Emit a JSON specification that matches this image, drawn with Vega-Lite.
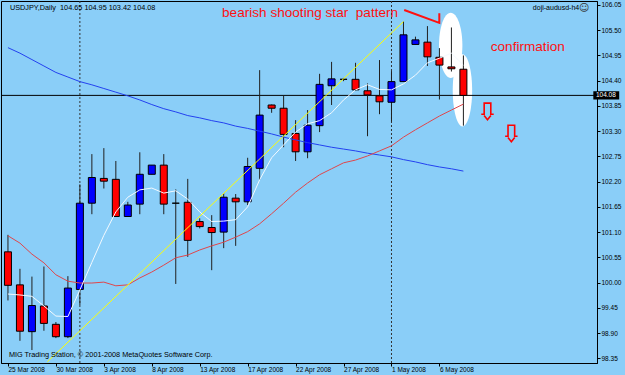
{
  "$schema": "https://vega.github.io/schema/vega-lite/v6.json",
  "width": 596,
  "height": 362,
  "autosize": {"type": "none"},
  "padding": {"left": 1, "top": 1, "right": 28, "bottom": 12},
  "background": "#8ACEF8",
  "config": {"view": {"stroke": "#000000", "strokeWidth": 1, "fill": "#8ACEF8"}, "font": "Liberation Sans"},
  "resolve": {"axis": {"x": "independent", "y": "independent"}},
  "datasets": {
    "candles": [
      {"i": 0, "date": "2008-03-25", "open": 100.67, "high": 101.04, "low": 99.61, "close": 99.94},
      {"i": 1, "date": "2008-03-26", "open": 99.95, "high": 100.30, "low": 98.73, "close": 98.94},
      {"i": 2, "date": "2008-03-27", "open": 98.93, "high": 100.13, "low": 98.53, "close": 99.50},
      {"i": 3, "date": "2008-03-28", "open": 99.49, "high": 100.35, "low": 98.95, "close": 99.11},
      {"i": 4, "date": "2008-03-30", "open": 99.09, "high": 99.14, "low": 98.79, "close": 98.82},
      {"i": 5, "date": "2008-03-31", "open": 98.82, "high": 100.14, "low": 98.79, "close": 99.88},
      {"i": 6, "date": "2008-04-01", "open": 99.85, "high": 102.14, "low": 99.51, "close": 101.73},
      {"i": 7, "date": "2008-04-02", "open": 101.73, "high": 102.80, "low": 101.49, "close": 102.29},
      {"i": 8, "date": "2008-04-03", "open": 102.27, "high": 102.93, "low": 102.05, "close": 102.21},
      {"i": 9, "date": "2008-04-04", "open": 102.25, "high": 102.65, "low": 101.43, "close": 101.44},
      {"i": 10, "date": "2008-04-06", "open": 101.44, "high": 101.76, "low": 101.43, "close": 101.69},
      {"i": 11, "date": "2008-04-07", "open": 101.71, "high": 102.84, "low": 101.49, "close": 102.36},
      {"i": 12, "date": "2008-04-08", "open": 102.36, "high": 102.56, "low": 102.36, "close": 102.56},
      {"i": 13, "date": "2008-04-09", "open": 102.56, "high": 102.80, "low": 101.49, "close": 101.71},
      {"i": 14, "date": "2008-04-10", "open": 101.73, "high": 102.03, "low": 99.97, "close": 101.73},
      {"i": 15, "date": "2008-04-11", "open": 101.75, "high": 102.26, "low": 100.56, "close": 100.92},
      {"i": 16, "date": "2008-04-13", "open": 101.33, "high": 101.40, "low": 101.18, "close": 101.22},
      {"i": 17, "date": "2008-04-14", "open": 101.20, "high": 101.47, "low": 100.27, "close": 101.09},
      {"i": 18, "date": "2008-04-15", "open": 101.10, "high": 101.95, "low": 100.75, "close": 101.86},
      {"i": 19, "date": "2008-04-16", "open": 101.84, "high": 101.93, "low": 100.80, "close": 101.76},
      {"i": 20, "date": "2008-04-17", "open": 101.76, "high": 102.72, "low": 101.69, "close": 102.53},
      {"i": 21, "date": "2008-04-18", "open": 102.49, "high": 104.63, "low": 102.24, "close": 103.65},
      {"i": 22, "date": "2008-04-20", "open": 103.87, "high": 103.88, "low": 103.70, "close": 103.80},
      {"i": 23, "date": "2008-04-21", "open": 103.80, "high": 104.07, "low": 102.95, "close": 103.23},
      {"i": 24, "date": "2008-04-22", "open": 103.25, "high": 103.54, "low": 102.65, "close": 102.85},
      {"i": 25, "date": "2008-04-23", "open": 102.85, "high": 103.76, "low": 102.71, "close": 103.43},
      {"i": 26, "date": "2008-04-24", "open": 103.42, "high": 104.55, "low": 103.28, "close": 104.32},
      {"i": 27, "date": "2008-04-25", "open": 104.29, "high": 104.81, "low": 103.87, "close": 104.44},
      {"i": 28, "date": "2008-04-27", "open": 104.43, "high": 104.46, "low": 104.39, "close": 104.43},
      {"i": 29, "date": "2008-04-28", "open": 104.43, "high": 104.79, "low": 104.18, "close": 104.20},
      {"i": 30, "date": "2008-04-29", "open": 104.18, "high": 104.34, "low": 103.19, "close": 104.09},
      {"i": 31, "date": "2008-04-30", "open": 104.07, "high": 104.85, "low": 103.67, "close": 103.94},
      {"i": 32, "date": "2008-05-01", "open": 103.93, "high": 104.61, "low": 103.51, "close": 104.38},
      {"i": 33, "date": "2008-05-02", "open": 104.38, "high": 105.69, "low": 104.38, "close": 105.40},
      {"i": 34, "date": "2008-05-04", "open": 105.19, "high": 105.36, "low": 105.19, "close": 105.29},
      {"i": 35, "date": "2008-05-05", "open": 105.24, "high": 105.59, "low": 104.72, "close": 104.92},
      {"i": 36, "date": "2008-05-06", "open": 104.91, "high": 105.11, "low": 103.99, "close": 104.74},
      {"i": 37, "date": "2008-05-07", "open": 104.70, "high": 105.56, "low": 104.60, "close": 104.66},
      {"i": 38, "date": "2008-05-08", "open": 104.65, "high": 104.95, "low": 103.42, "close": 104.08}
    ],
    "ma": [
      {"i": 0, "white": 99.75, "red": 101.02, "blue": 105.12},
      {"i": 1, "white": 99.73, "red": 100.86, "blue": 105.00},
      {"i": 2, "white": 99.70, "red": 100.62, "blue": 104.86},
      {"i": 3, "white": 99.49, "red": 100.43, "blue": 104.72},
      {"i": 4, "white": 99.27, "red": 100.17, "blue": 104.58},
      {"i": 5, "white": 99.26, "red": 100.03, "blue": 104.48},
      {"i": 6, "white": 99.84, "red": 99.99, "blue": 104.38},
      {"i": 7, "white": 100.44, "red": 99.99, "blue": 104.31},
      {"i": 8, "white": 101.03, "red": 100.01, "blue": 104.23},
      {"i": 9, "white": 101.54, "red": 99.93, "blue": 104.15},
      {"i": 10, "white": 101.86, "red": 99.95, "blue": 104.07},
      {"i": 11, "white": 102.02, "red": 100.10, "blue": 103.98},
      {"i": 12, "white": 102.06, "red": 100.23, "blue": 103.88},
      {"i": 13, "white": 101.95, "red": 100.38, "blue": 103.79},
      {"i": 14, "white": 102.00, "red": 100.54, "blue": 103.72},
      {"i": 15, "white": 101.82, "red": 100.60, "blue": 103.64},
      {"i": 16, "white": 101.54, "red": 100.71, "blue": 103.59},
      {"i": 17, "white": 101.33, "red": 100.80, "blue": 103.53},
      {"i": 18, "white": 101.34, "red": 100.88, "blue": 103.48},
      {"i": 19, "white": 101.37, "red": 100.99, "blue": 103.41},
      {"i": 20, "white": 101.65, "red": 101.11, "blue": 103.36},
      {"i": 21, "white": 102.24, "red": 101.28, "blue": 103.30},
      {"i": 22, "white": 102.72, "red": 101.50, "blue": 103.24},
      {"i": 23, "white": 103.00, "red": 101.73, "blue": 103.17},
      {"i": 24, "white": 103.28, "red": 101.97, "blue": 103.11},
      {"i": 25, "white": 103.46, "red": 102.17, "blue": 103.05},
      {"i": 26, "white": 103.53, "red": 102.35, "blue": 103.00},
      {"i": 27, "white": 103.70, "red": 102.48, "blue": 102.95},
      {"i": 28, "white": 103.98, "red": 102.61, "blue": 102.91},
      {"i": 29, "white": 104.20, "red": 102.67, "blue": 102.87},
      {"i": 30, "white": 104.31, "red": 102.76, "blue": 102.82},
      {"i": 31, "white": 104.21, "red": 102.87, "blue": 102.78},
      {"i": 32, "white": 104.20, "red": 102.98, "blue": 102.74},
      {"i": 33, "white": 104.33, "red": 103.17, "blue": 102.68},
      {"i": 34, "white": 104.52, "red": 103.33, "blue": 102.63},
      {"i": 35, "white": 104.79, "red": 103.48, "blue": 102.57},
      {"i": 36, "white": 104.89, "red": 103.63, "blue": 102.52},
      {"i": 37, "white": 105.00, "red": 103.76, "blue": 102.48},
      {"i": 38, "white": 104.74, "red": 103.89, "blue": 102.43}
    ]
  },
  "layer": [
    {
      "data": {"name": "candles"},
      "mark": {"type": "point", "opacity": 0, "size": 1},
      "encoding": {
        "x": {"field": "i", "type": "quantitative", "scale": {"domain": [-0.164, 48.73], "nice": false, "zero": false},
          "axis": {"values": [0, 4, 8, 12, 16, 20, 24, 28, 32, 36], "labelExpr": "['25 Mar 2008','30 Mar 2008','3 Apr 2008','8 Apr 2008','13 Apr 2008','17 Apr 2008','22 Apr 2008','27 Apr 2008','1 May 2008','6 May 2008'][round(datum.value/4)]", "labelAlign": "left", "labelBaseline": "top", "labelFont": "Liberation Sans", "labelFontSize": 6.5, "labelColor": "#000000", "labelPadding": 0, "tickSize": 3, "tickColor": "#000000", "domainColor": "#000000", "grid": false, "title": null, "labelFlush": false, "labelOverlap": false, "labelBound": false}},
        "y": {"field": "low", "type": "quantitative", "scale": {"domain": [98.247, 106.137], "nice": false, "zero": false},
          "axis": {"orient": "right", "values": [98.35, 98.9, 99.45, 100, 100.55, 101.1, 101.65, 102.2, 102.75, 103.3, 103.85, 104.4, 104.95, 105.5, 106.05], "format": ".2f", "labelAlign": "left", "labelBaseline": "middle", "labelFont": "Liberation Sans", "labelFontSize": 6.5, "labelColor": "#000000", "labelPadding": 1, "tickSize": 3, "tickColor": "#000000", "domainColor": "#000000", "grid": false, "title": null, "labelFlush": false, "labelOverlap": false}}
      }
    },
    {
      "data": {"values": [{"i": 36.94, "p": 105.17}]},
      "mark": {"type": "point", "shape": "M0,-1 C0.198,-1 0.358,-0.552 0.358,0 C0.358,0.552 0.198,1 0,1 C-0.198,1 -0.358,0.552 -0.358,0 C-0.358,-0.552 -0.198,-1 0,-1 Z", "size": 4264, "filled": true, "fill": "#FFFFFF", "opacity": 1, "strokeWidth": 0},
      "encoding": {
        "x": {"field": "i", "type": "quantitative", "scale": {"domain": [-0.164, 48.73], "nice": false, "zero": false}, "axis": null},
        "y": {"field": "p", "type": "quantitative", "scale": {"domain": [98.247, 106.137], "nice": false, "zero": false}, "axis": null}
      }
    },
    {
      "data": {"values": [{"i": 37.92, "p": 104.19}]},
      "mark": {"type": "point", "shape": "M0,-1 C0.148,-1 0.268,-0.552 0.268,0 C0.268,0.552 0.148,1 0,1 C-0.148,1 -0.268,0.552 -0.268,0 C-0.268,-0.552 -0.148,-1 0,-1 Z", "size": 5242, "filled": true, "fill": "#FFFFFF", "opacity": 1, "strokeWidth": 0},
      "encoding": {
        "x": {"field": "i", "type": "quantitative", "scale": {"domain": [-0.164, 48.73], "nice": false, "zero": false}, "axis": null},
        "y": {"field": "p", "type": "quantitative", "scale": {"domain": [98.247, 106.137], "nice": false, "zero": false}, "axis": null}
      }
    },
    {
      "data": {"values": [{"i": 6}, {"i": 32}]},
      "mark": {"type": "rule", "color": "#333333", "strokeWidth": 1, "strokeDash": [2, 2]},
      "encoding": {
        "x": {"field": "i", "type": "quantitative", "scale": {"domain": [-0.164, 48.73], "nice": false, "zero": false}, "axis": null}
      }
    },
    {
      "data": {"values": [{"p": 104.08}]},
      "mark": {"type": "rule", "color": "#000000", "strokeWidth": 1},
      "encoding": {
        "y": {"field": "p", "type": "quantitative", "scale": {"domain": [98.247, 106.137], "nice": false, "zero": false}, "axis": null}
      }
    },
    {
      "data": {"name": "candles"},
      "mark": {"type": "rule", "color": "#202020", "strokeWidth": 1},
      "encoding": {
        "x": {"field": "i", "type": "quantitative", "scale": {"domain": [-0.164, 48.73], "nice": false, "zero": false}, "axis": null},
        "y": {"field": "low", "type": "quantitative", "scale": {"domain": [98.247, 106.137], "nice": false, "zero": false}, "axis": null},
        "y2": {"field": "high"}
      }
    },
    {
      "data": {"name": "candles"},
      "mark": {"type": "bar", "size": 7, "stroke": "#000000", "strokeWidth": 1, "opacity": 1},
      "encoding": {
        "x": {"field": "i", "type": "quantitative", "scale": {"domain": [-0.164, 48.73], "nice": false, "zero": false}, "axis": null},
        "y": {"field": "open", "type": "quantitative", "scale": {"domain": [98.247, 106.137], "nice": false, "zero": false}, "axis": null},
        "y2": {"field": "close"},
        "fill": {"condition": [{"test": "datum.open > datum.close", "value": "#FF0000"}, {"test": "datum.open < datum.close", "value": "#0000FF"}], "value": "#000000"}
      }
    },
    {
      "data": {"name": "ma"},
      "mark": {"type": "line", "color": "#2341F0", "strokeWidth": 1, "clip": true},
      "encoding": {
        "x": {"field": "i", "type": "quantitative", "scale": {"domain": [-0.164, 48.73], "nice": false, "zero": false}, "axis": null},
        "y": {"field": "blue", "type": "quantitative", "scale": {"domain": [98.247, 106.137], "nice": false, "zero": false}, "axis": null}
      }
    },
    {
      "data": {"name": "ma"},
      "mark": {"type": "line", "color": "#E0464B", "strokeWidth": 1, "clip": true},
      "encoding": {
        "x": {"field": "i", "type": "quantitative", "scale": {"domain": [-0.164, 48.73], "nice": false, "zero": false}, "axis": null},
        "y": {"field": "red", "type": "quantitative", "scale": {"domain": [98.247, 106.137], "nice": false, "zero": false}, "axis": null}
      }
    },
    {
      "data": {"name": "ma"},
      "mark": {"type": "line", "color": "#F4FAFF", "strokeWidth": 1, "clip": true},
      "encoding": {
        "x": {"field": "i", "type": "quantitative", "scale": {"domain": [-0.164, 48.73], "nice": false, "zero": false}, "axis": null},
        "y": {"field": "white", "type": "quantitative", "scale": {"domain": [98.247, 106.137], "nice": false, "zero": false}, "axis": null}
      }
    },
    {
      "data": {"values": [{"i": 3.28, "p": 98.27}, {"i": 33.0, "p": 105.69}]},
      "mark": {"type": "line", "color": "#FFFF00", "strokeWidth": 1, "clip": true},
      "encoding": {
        "x": {"field": "i", "type": "quantitative", "scale": {"domain": [-0.164, 48.73], "nice": false, "zero": false}, "axis": null},
        "y": {"field": "p", "type": "quantitative", "scale": {"domain": [98.247, 106.137], "nice": false, "zero": false}, "axis": null}
      }
    },
    {
      "data": {"values": [{"o": 1, "i": 33.06, "p": 105.94}, {"o": 2, "i": 35.99, "p": 105.66}, {"o": 3, "i": 35.99, "p": 105.87}]},
      "mark": {"type": "line", "color": "#FF1010", "strokeWidth": 2, "strokeJoin": "miter"},
      "encoding": {
        "x": {"field": "i", "type": "quantitative", "scale": {"domain": [-0.164, 48.73], "nice": false, "zero": false}, "axis": null},
        "y": {"field": "p", "type": "quantitative", "scale": {"domain": [98.247, 106.137], "nice": false, "zero": false}, "axis": null},
        "order": {"field": "o", "type": "quantitative"}
      }
    },
    {
      "data": {"values": [{"i": 40.01, "p": 103.725}, {"i": 42.0, "p": 103.245}]},
      "mark": {"type": "point", "shape": "M-0.73,0.31 L-0.39,0.31 L-0.39,-1 L0.39,-1 L0.39,0.31 L0.73,0.31 M-0.4,0.45 L0,0.95 L0.4,0.45", "size": 289, "filled": false, "stroke": "#FF0000", "strokeWidth": 1.6, "opacity": 1},
      "encoding": {
        "x": {"field": "i", "type": "quantitative", "scale": {"domain": [-0.164, 48.73], "nice": false, "zero": false}, "axis": null},
        "y": {"field": "p", "type": "quantitative", "scale": {"domain": [98.247, 106.137], "nice": false, "zero": false}, "axis": null}
      }
    },
    {
      "data": {"values": [{"i": 0.16, "p": 105.934, "t": "USDJPY,Daily\u00a0 104.65 104.95 103.42 104.08"}, {"i": 0.08, "p": 98.367, "t": "MIG Trading Station, © 2001-2008 MetaQuotes Software Corp."}]},
      "mark": {"type": "text", "align": "left", "baseline": "alphabetic", "font": "Liberation Sans", "fontSize": 7.3, "color": "#000000"},
      "encoding": {
        "x": {"field": "i", "type": "quantitative", "scale": {"domain": [-0.164, 48.73], "nice": false, "zero": false}, "axis": null},
        "y": {"field": "p", "type": "quantitative", "scale": {"domain": [98.247, 106.137], "nice": false, "zero": false}, "axis": null},
        "text": {"field": "t"}
      }
    },
    {
      "data": {"values": [{"i": 47.66, "p": 105.95, "t": "doji-audusd-h4"}]},
      "mark": {"type": "text", "align": "right", "baseline": "alphabetic", "font": "Liberation Sans", "fontSize": 7, "color": "#000000"},
      "encoding": {
        "x": {"field": "i", "type": "quantitative", "scale": {"domain": [-0.164, 48.73], "nice": false, "zero": false}, "axis": null},
        "y": {"field": "p", "type": "quantitative", "scale": {"domain": [98.247, 106.137], "nice": false, "zero": false}, "axis": null},
        "text": {"field": "t"}
      }
    },
    {
      "data": {"values": [{"i": 48.07, "p": 105.98, "t": "☺"}]},
      "mark": {"type": "text", "align": "center", "baseline": "middle", "font": "DejaVu Sans", "fontSize": 10, "color": "#333333"},
      "encoding": {
        "x": {"field": "i", "type": "quantitative", "scale": {"domain": [-0.164, 48.73], "nice": false, "zero": false}, "axis": null},
        "y": {"field": "p", "type": "quantitative", "scale": {"domain": [98.247, 106.137], "nice": false, "zero": false}, "axis": null},
        "text": {"field": "t"}
      }
    },
    {
      "data": {"values": [{"i": 17.86, "p": 105.78, "t": "bearish shooting star\u00a0 pattern"}, {"i": 40.28, "p": 105.04, "t": "confirmation"}]},
      "mark": {"type": "text", "align": "left", "baseline": "alphabetic", "font": "Liberation Sans", "fontSize": 13.6, "color": "#FF1010"},
      "encoding": {
        "x": {"field": "i", "type": "quantitative", "scale": {"domain": [-0.164, 48.73], "nice": false, "zero": false}, "axis": null},
        "y": {"field": "p", "type": "quantitative", "scale": {"domain": [98.247, 106.137], "nice": false, "zero": false}, "axis": null},
        "text": {"field": "t"}
      }
    },
    {
      "data": {"values": [{"x1": 48.84, "x2": 51.0, "y1": 103.99, "y2": 104.17}]},
      "mark": {"type": "rect", "color": "#000000", "opacity": 1},
      "encoding": {
        "x": {"field": "x1", "type": "quantitative", "scale": {"domain": [-0.164, 48.73], "nice": false, "zero": false}, "axis": null},
        "x2": {"field": "x2"},
        "y": {"field": "y1", "type": "quantitative", "scale": {"domain": [98.247, 106.137], "nice": false, "zero": false}, "axis": null},
        "y2": {"field": "y2"}
      }
    },
    {
      "data": {"values": [{"i": 49.06, "p": 104.08, "t": "104.08"}]},
      "mark": {"type": "text", "align": "left", "baseline": "middle", "font": "Liberation Sans", "fontSize": 6.5, "color": "#FFFFFF"},
      "encoding": {
        "x": {"field": "i", "type": "quantitative", "scale": {"domain": [-0.164, 48.73], "nice": false, "zero": false}, "axis": null},
        "y": {"field": "p", "type": "quantitative", "scale": {"domain": [98.247, 106.137], "nice": false, "zero": false}, "axis": null},
        "text": {"field": "t"}
      }
    }
  ]
}
